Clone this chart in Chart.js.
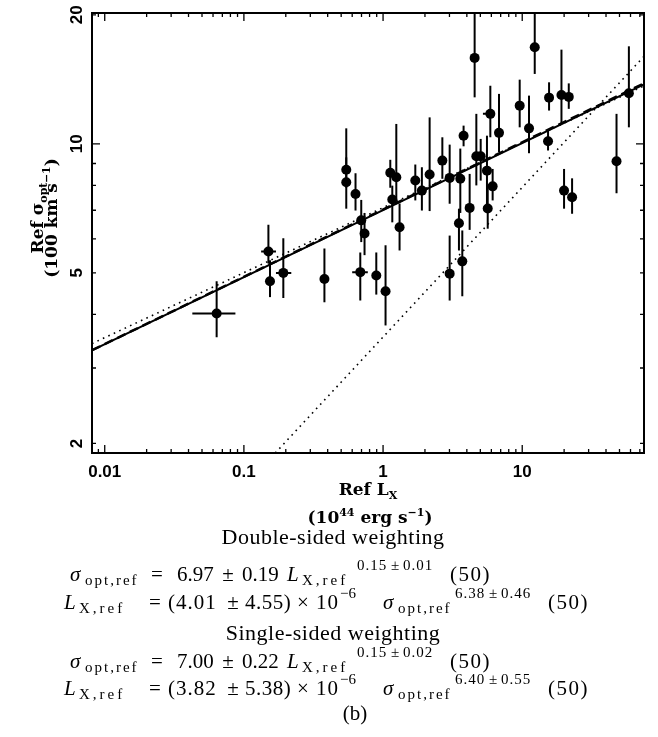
<!DOCTYPE html>
<html>
<head>
<meta charset="utf-8">
<script src="https://cdn.jsdelivr.net/npm/chart.js@4.4.1/dist/chart.umd.min.js"></script>
<style>
html,body{margin:0;padding:0;background:#fff;}
#c{display:block;}
</style>
</head>
<body>
<canvas id="c" width="658" height="737"></canvas>
<script>
// ---- data ----
const lxRef     = [0.0637,0.150,0.154,0.192,0.379,0.544,0.544,0.634,0.697,0.686,0.736,0.894,1.042,
                   1.127,1.165,1.245,1.314,1.705,1.901,2.161,2.667,3.01,3.01,3.51,3.59,3.71,3.79,4.19,
                   4.68,4.55,5.03,5.58,5.65,5.90,6.13,6.81,9.59,11.19,12.30,15.33,15.59,19.14,19.98,
                   21.60,22.82,47.6,58.4];
const sigmaRef  = [4.02,5.61,4.78,5.00,4.84,8.70,8.14,7.64,6.63,5.02,6.18,4.93,4.53,
                   8.56,7.42,8.36,6.39,8.21,7.78,8.48,9.14,4.98,8.33,6.53,8.29,5.32,10.45,7.09,
                   9.36,15.87,9.36,8.66,7.07,11.75,7.96,10.61,12.28,10.87,16.80,10.14,12.82,13.00,7.78,
                   12.87,7.51,9.11,13.12];
const sigmaLow  = [3.54,5.26,4.39,4.37,4.27,7.90,7.06,6.99,5.90,4.31,5.50,4.45,3.77,
                   7.90,6.56,7.38,5.64,7.38,6.99,6.97,8.29,4.31,7.25,5.64,6.90,4.41,9.87,6.30,
                   8.00,12.84,8.21,7.18,6.34,10.36,7.38,9.56,10.93,9.51,14.56,9.65,11.96,11.13,7.06,
                   12.07,6.87,7.67,10.93];
const sigmaHigh = [4.78,6.48,5.35,6.02,5.70,10.87,9.30,8.54,7.40,5.58,6.90,5.58,5.80,
                   9.18,7.99,11.13,7.26,8.95,8.82,11.53,10.36,6.11,9.96,7.06,9.75,6.28,11.03,8.51,
                   11.75,21.0,10.27,10.45,8.00,13.67,8.74,13.08,14.12,12.96,21.0,10.74,13.92,16.59,8.74,
                   13.84,8.31,11.75,16.89];
const lxLow     = [0.0426,0.133,null,0.170,null,null,null,null,null,0.600,null,null,null,
                   null,null,null,null,null,null,null,null,null,null,null,null,null,null,null,
                   null,null,null,null,null,5.22,null,null,null,null,null,null,null,null,null,
                   null,null,null,null];
const lxHigh    = [0.0869,0.170,null,0.219,null,null,null,null,null,0.777,null,null,null,
                   null,null,null,null,null,null,null,null,null,null,null,null,null,null,null,
                   null,null,null,null,null,6.34,null,null,null,null,null,null,null,null,null,
                   null,null,null,null];

// fitted relations (end points)
const fitLx          = [0.0081, 75];
const fitDoubleSided = [3.30, 13.76];
const fitSingleSided = [3.30, 13.84];
const fitShallowDot  = [3.42, 13.66];
const steepLx        = [0.168, 75];
const steepSigma     = [1.90, 16.0];

// axes
const xRange = [0.0081, 75];
const yRange = [1.9, 20.2];
const xTickValues = [0.01, 0.1, 1, 10];
const xTickLabels = ['0.01', '0.1', '1', '10'];
const yTickValues = [2, 5, 10, 20];
const yTickLabels = ['2', '5', '10', '20'];

const pts = (xs, ys) => xs.map((v, i) => ({x: v, y: ys[i]}));

const errorBars = {
  id: 'errorBars',
  beforeDatasetsDraw(chart) {
    const {ctx, chartArea: a, scales: {x, y}} = chart;
    ctx.save();
    ctx.beginPath(); ctx.rect(a.left, a.top, a.right - a.left, a.bottom - a.top); ctx.clip();
    ctx.strokeStyle = '#000'; ctx.lineWidth = 2;
    for (let i = 0; i < lxRef.length; i++) {
      const px = x.getPixelForValue(lxRef[i]);
      const py = y.getPixelForValue(sigmaRef[i]);
      ctx.beginPath();
      ctx.moveTo(px, y.getPixelForValue(sigmaLow[i]));
      ctx.lineTo(px, y.getPixelForValue(sigmaHigh[i]));
      if (lxLow[i] != null) {
        ctx.moveTo(x.getPixelForValue(lxLow[i]), py);
        ctx.lineTo(x.getPixelForValue(lxHigh[i]), py);
      }
      ctx.stroke();
    }
    ctx.restore();
  }
};

function seg(ctx, s, x, y, font, align, ls) {
  ctx.font = font;
  ctx.textAlign = align || 'left';
  ctx.letterSpacing = (ls || 0) + 'px';
  ctx.fillText(s, x, y);
  ctx.letterSpacing = '0px';
}

const frameAndText = {
  id: 'frameAndText',
  afterDraw(chart) {
    const {ctx, chartArea: a, scales: {x, y}} = chart;
    ctx.save();
    ctx.strokeStyle = '#000';
    // frame
    ctx.lineWidth = 2;
    ctx.strokeRect(a.left, a.top, a.right - a.left, a.bottom - a.top);
    // ticks
    ctx.lineWidth = 1.3;
    ctx.beginPath();
    for (let d = -3; d <= 2; d++) {
      for (let m = 1; m <= 9; m++) {
        const v = m * Math.pow(10, d);
        if (v >= x.min && v <= x.max) {
          const px = x.getPixelForValue(v), len = (m === 1) ? 8 : 4;
          ctx.moveTo(px, a.bottom); ctx.lineTo(px, a.bottom - len);
          ctx.moveTo(px, a.top); ctx.lineTo(px, a.top + len);
        }
        if (v >= y.min && v <= y.max) {
          const py = y.getPixelForValue(v), len = (m === 1) ? 8 : 4;
          ctx.moveTo(a.left, py); ctx.lineTo(a.left + len, py);
          ctx.moveTo(a.right, py); ctx.lineTo(a.right - len, py);
        }
      }
    }
    ctx.stroke();

    ctx.fillStyle = '#000';
    ctx.textBaseline = 'alphabetic';
    // x tick labels
    xTickValues.forEach((v, i) => {
      seg(ctx, xTickLabels[i], x.getPixelForValue(v), 477, 'bold 17px "Liberation Sans"', 'center');
    });
    // y tick labels (rotated)
    yTickValues.forEach((v, i) => {
      ctx.save();
      ctx.translate(82, y.getPixelForValue(v));
      ctx.rotate(-Math.PI / 2);
      seg(ctx, yTickLabels[i], 0, 0, 'bold 17px "Liberation Sans"', 'center');
      ctx.restore();
    });

    // x axis title
    const tb = 'bold 17px "DejaVu Serif"', ts = 'bold 11px "DejaVu Serif"';
    const cx = (a.left + a.right) / 2;
    ctx.font = tb; const w1 = ctx.measureText('Ref L').width;
    ctx.font = ts; const w2 = ctx.measureText('X').width;
    let sx = cx - (w1 + w2) / 2;
    seg(ctx, 'Ref L', sx, 495, tb); seg(ctx, 'X', sx + w1, 499, ts);
    const parts = [['(10', tb, 0], ['44', ts, -7], [' erg s', tb, 0], ['\u22121', ts, -7], [')', tb, 0]];
    let tw = 0; parts.forEach(p => { ctx.font = p[1]; tw += ctx.measureText(p[0]).width; });
    sx = cx + 2 - tw / 2;
    parts.forEach(p => { seg(ctx, p[0], sx, 523 + p[2], p[1]); ctx.font = p[1]; sx += ctx.measureText(p[0]).width; });

    // y axis title (rotated)
    ctx.save();
    ctx.translate(43, 218);
    ctx.rotate(-Math.PI / 2);
    ctx.font = tb; const r1 = ctx.measureText('Ref \u03c3').width;
    ctx.font = ts; const r2 = ctx.measureText('opt').width;
    seg(ctx, 'Ref \u03c3', -(r1 + r2) / 2, 0, tb); seg(ctx, 'opt', -(r1 + r2) / 2 + r1, 4, ts);
    const yp = [['(100 km s', tb, 0], ['\u22121', ts, -7], [')', tb, 0]];
    tw = 0; yp.forEach(p => { ctx.font = p[1]; tw += ctx.measureText(p[0]).width; });
    sx = -tw / 2;
    yp.forEach(p => { seg(ctx, p[0], sx, 14 + p[2], p[1]); ctx.font = p[1]; sx += ctx.measureText(p[0]).width; });
    ctx.restore();

    // equations block
    const rm = '21px "Liberation Serif"', it = 'italic 21px "Liberation Serif"';
    const sb = '15px "Liberation Serif"', sp = '15px "Liberation Serif"';
    seg(ctx, 'Double-sided weighting', 333, 544, '22px "Liberation Serif"', 'center', 0.5);
    seg(ctx, 'Single-sided weighting', 333, 640, '22px "Liberation Serif"', 'center', 0.5);

    function sigmaLine(b, a0, e0, p1, p2) {
      seg(ctx, '\u03c3', 70, b, it);
      seg(ctx, 'opt,ref', 85, b + 4, sb, 'left', 2);
      seg(ctx, '=', 157, b, rm, 'center');
      seg(ctx, a0, 177, b, rm);
      seg(ctx, '\u00b1', 228, b, rm, 'center');
      seg(ctx, e0, 242, b, rm);
      seg(ctx, 'L', 287, b, it);
      seg(ctx, 'X,ref', 302, b + 4, sb, 'left', 3);
      seg(ctx, p1, 357, b - 11, sp, 'left', 1);
      seg(ctx, '\u00b1', 395, b - 11, sp, 'center');
      seg(ctx, p2, 403, b - 11, sp, 'left', 1);
      seg(ctx, '(50)', 450, b, rm, 'left', 1.5);
    }
    function lxLine(b, a0, e0, p1, p2) {
      seg(ctx, 'L', 64, b, it);
      seg(ctx, 'X,ref', 79, b + 4, sb, 'left', 3);
      seg(ctx, '=', 155, b, rm, 'center');
      seg(ctx, '(' + a0, 168, b, rm, 'left', 1);
      seg(ctx, '\u00b1', 233, b, rm, 'center');
      seg(ctx, e0 + ')', 245, b, rm, 'left', 0.5);
      seg(ctx, '\u00d7', 303, b, rm, 'center');
      seg(ctx, '10', 316, b, rm, 'left', 1);
      ctx.font = rm; const w10 = ctx.measureText('10').width + 3;
      seg(ctx, '\u22126', 316 + w10, b - 11, sp);
      seg(ctx, '\u03c3', 383, b, it);
      seg(ctx, 'opt,ref', 398, b + 4, sb, 'left', 2);
      seg(ctx, p1, 455, b - 11, sp, 'left', 1);
      seg(ctx, '\u00b1', 493, b - 11, sp, 'center');
      seg(ctx, p2, 501, b - 11, sp, 'left', 1);
      seg(ctx, '(50)', 548, b, rm, 'left', 1.5);
    }
    sigmaLine(581, '6.97', '0.19', '0.15', '0.01');
    lxLine(609, '4.01', '4.55', '6.38', '0.46');
    sigmaLine(668, '7.00', '0.22', '0.15', '0.02');
    lxLine(695, '3.82', '5.38', '6.40', '0.55');
    seg(ctx, '(b)', 355, 720, rm, 'center');
    ctx.restore();
  }
};

new Chart(document.getElementById('c'), {
  type: 'scatter',
  data: {
    datasets: [
      {label: 'Clusters', data: pts(lxRef, sigmaRef), pointRadius: 5, pointHoverRadius: 5,
       pointBackgroundColor: '#000', pointBorderColor: '#000', pointBorderWidth: 0, showLine: false},
      {label: 'Double-sided fit', data: pts(fitLx, fitDoubleSided), showLine: true, borderColor: '#000',
       borderWidth: 2, pointRadius: 0},
      {label: 'Single-sided fit', data: pts(fitLx, fitSingleSided), showLine: true, borderColor: '#000',
       borderWidth: 2.5, borderDash: [9, 5], pointRadius: 0},
      {label: 'Dotted shallow', data: pts(fitLx, fitShallowDot), showLine: true, borderColor: '#000',
       borderWidth: 1.6, borderDash: [1.6, 4.4], pointRadius: 0},
      {label: 'Dotted steep', data: pts(steepLx, steepSigma), showLine: true, borderColor: '#000',
       borderWidth: 1.6, borderDash: [1.6, 4.4], pointRadius: 0}
    ]
  },
  options: {
    responsive: false,
    devicePixelRatio: 1,
    animation: false,
    layout: {padding: {left: 92, right: 14, top: 13, bottom: 284}},
    plugins: {legend: {display: false}, tooltip: {enabled: false}},
    scales: {
      x: {type: 'logarithmic', min: xRange[0], max: xRange[1],
          ticks: {display: false}, grid: {display: false}, border: {display: false},
          afterFit(s) { s.height = 0; }},
      y: {type: 'logarithmic', min: yRange[0], max: yRange[1],
          ticks: {display: false}, grid: {display: false}, border: {display: false},
          afterFit(s) { s.width = 0; }}
    }
  },
  plugins: [errorBars, frameAndText]
});
</script>
</body>
</html>
